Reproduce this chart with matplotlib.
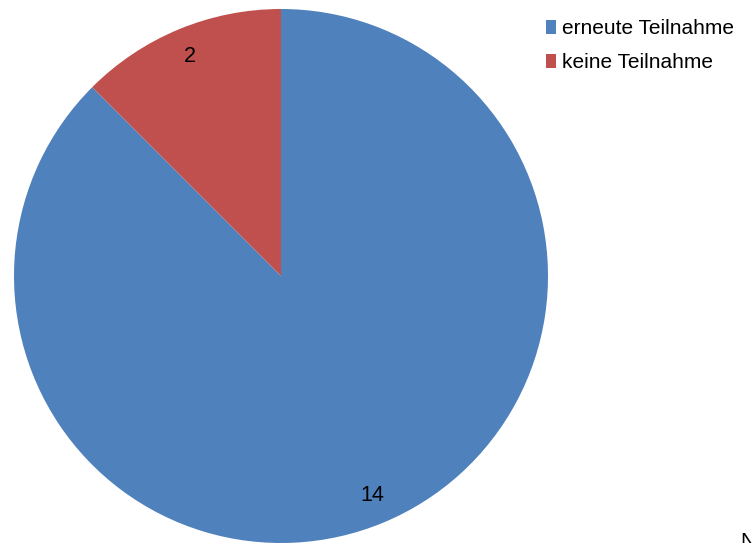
import matplotlib.pyplot as plt

# pie data
labels = ['erneute Teilnahme', 'keine Teilnahme']
counts = [14, 2]
colors = ['#4F81BD', '#C0504D']

W, H = 752, 543
fig = plt.figure(figsize=(W / 100, H / 100), dpi=100)
plt.rcParams['font.family'] = ['Liberation Sans', 'DejaVu Sans']

# axes spans the whole figure, one data unit = one pixel
ax = fig.add_axes([0, 0, 1, 1])

cx, cy, r = 281, H - 276, 267
wedges, texts = ax.pie(counts, colors=colors, startangle=90, counterclock=False,
                       center=(cx, cy), radius=r, labels=[str(c) for c in counts],
                       labeldistance=0.89, frame=True,
                       textprops=dict(fontsize=15.5, color='black'))
for t in texts:
    t.set_ha('center')
    t.set_va('center')
ax.set_xlim(0, W)
ax.set_ylim(0, H)
ax.axis('off')

leg = ax.legend(wedges, labels, loc='upper left', bbox_to_anchor=(538 / W, 1 - 11 / H),
                frameon=False, fontsize=15, handlelength=0.45, handleheight=0.6,
                handletextpad=0.3, labelspacing=0.72, borderaxespad=0)

# sample size note, runs off the bottom edge
fig.text(741 / W, 1 - 532 / H, 'N = 16', fontsize=15, ha='left', va='top')

fig.savefig('out.png', dpi=100)
